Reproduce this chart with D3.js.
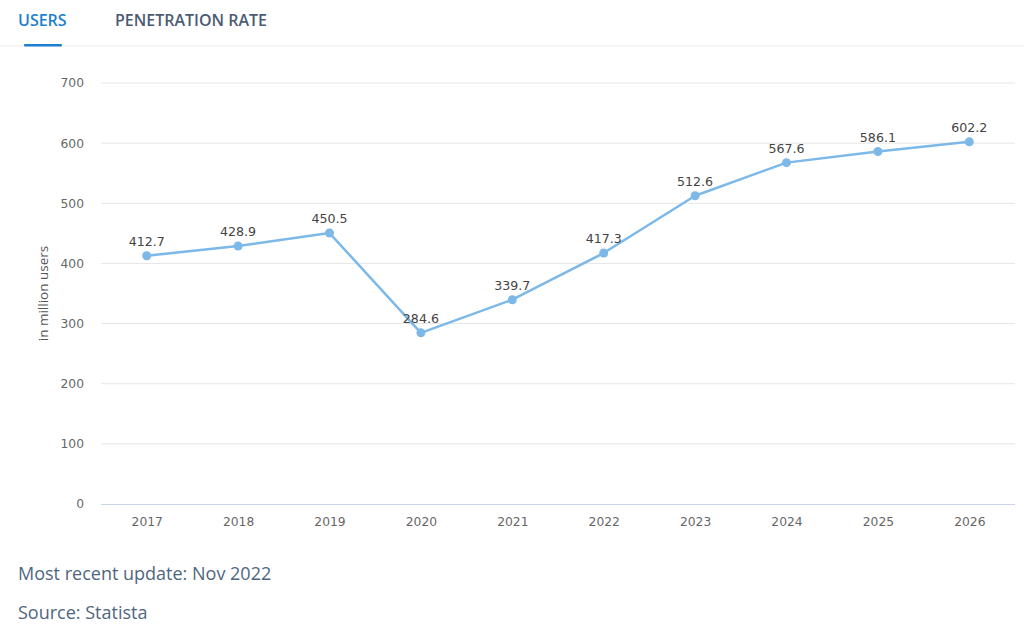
<!DOCTYPE html>
<html><head><meta charset="utf-8">
<script src="https://cdn.jsdelivr.net/npm/d3@7"></script>
<style>
html,body{margin:0;padding:0;background:#fff;}
svg{display:block;}
</style></head>
<body>
<svg id="chart" width="1024" height="638"></svg>
<script>
const years = ["2017","2018","2019","2020","2021","2022","2023","2024","2025","2026"];
const users = [412.7, 428.9, 450.5, 284.6, 339.7, 417.3, 512.6, 567.6, 586.1, 602.2];
const yTicks = [0,100,200,300,400,500,600,700];
const tabs = ["USERS","PENETRATION RATE"];
const yTitle = "in million users";
const footer = ["Most recent update: Nov 2022","Source: Statista"];

(function(){
const svg = d3.select("#chart");
const W = 1024;
const pL = 101, pR = 1015, pT = 83, pB = 504;

// tabs
svg.append("rect").attr("x",0).attr("y",45).attr("width",W).attr("height",1.5).attr("fill","#f2f3f5");
svg.append("text").attr("x",18).attr("y",26).text(tabs[0])
  .attr("font-family","Open Sans").attr("font-size",16).attr("font-weight",600).attr("fill","#1e7fd0");
svg.append("rect").attr("x",24).attr("y",44).attr("width",38).attr("height",2.5).attr("rx",1).attr("fill","#1e7fd0");
svg.append("text").attr("x",115).attr("y",26).text(tabs[1])
  .attr("font-family","Open Sans").attr("font-size",16).attr("font-weight",600).attr("fill","#4b5b74");

const x = d3.scalePoint().domain(years).range([pL, pR]).padding(0.5);
const y = d3.scaleLinear().domain([0,700]).range([pB, pT]);

// gridlines
svg.append("g").selectAll("line").data(yTicks.filter(d=>d>0)).join("line")
  .attr("x1",pL).attr("x2",pR).attr("y1",d=>y(d)).attr("y2",d=>y(d))
  .attr("stroke","#e6e6e6").attr("stroke-width",1);

// y axis
const yAxis = d3.axisLeft(y).tickValues(yTicks).tickSize(0).tickPadding(0);
const ya = svg.append("g").attr("transform","translate(84,0)").call(yAxis);
ya.select(".domain").remove();
ya.selectAll("text").attr("font-family","DejaVu Sans").attr("font-size",12.3).attr("fill","#666").attr("dy","0.32em");

// x baseline
svg.append("line").attr("x1",pL).attr("x2",pR).attr("y1",y(0)+0.5).attr("y2",y(0)+0.5)
  .attr("stroke","#ccd6eb").attr("stroke-width",1);

// x axis
const xAxis = d3.axisBottom(x).tickSize(0).tickPadding(0);
const xa = svg.append("g").attr("transform",`translate(0,${pB})`).call(xAxis);
xa.select(".domain").remove();
xa.selectAll("text").attr("font-family","DejaVu Sans").attr("font-size",12.3).attr("fill","#666").attr("dy","0").attr("y",22);

// y title
svg.append("text").attr("transform",`translate(48,${(pT+pB)/2}) rotate(-90)`)
  .attr("text-anchor","middle").attr("font-family","Open Sans").attr("font-size",13.5).attr("fill","#555").text(yTitle);

// line
const line = d3.line().x((d,i)=>x(years[i])).y(d=>y(d));
svg.append("path").datum(users).attr("d",line).attr("fill","none")
  .attr("stroke","#7cb8e8").attr("stroke-width",2.5).attr("stroke-linejoin","round");
svg.append("g").selectAll("circle").data(users).join("circle")
  .attr("cx",(d,i)=>x(years[i])).attr("cy",d=>y(d)).attr("r",4.5).attr("fill","#7cb8e8");
svg.append("g").selectAll("text").data(users).join("text")
  .attr("x",(d,i)=>x(years[i])).attr("y",d=>y(d)-10).attr("text-anchor","middle")
  .attr("font-family","DejaVu Sans").attr("font-size",12.6).attr("fill","#444")
  .text(d=>d.toFixed(1));

// footer
svg.append("text").attr("x",18).attr("y",580).text(footer[0])
  .attr("font-family","Open Sans").attr("font-size",18).attr("fill","#4f6680");
svg.append("text").attr("x",18).attr("y",619).text(footer[1])
  .attr("font-family","Open Sans").attr("font-size",18).attr("fill","#4f6680");
})();
</script>
</body></html>
